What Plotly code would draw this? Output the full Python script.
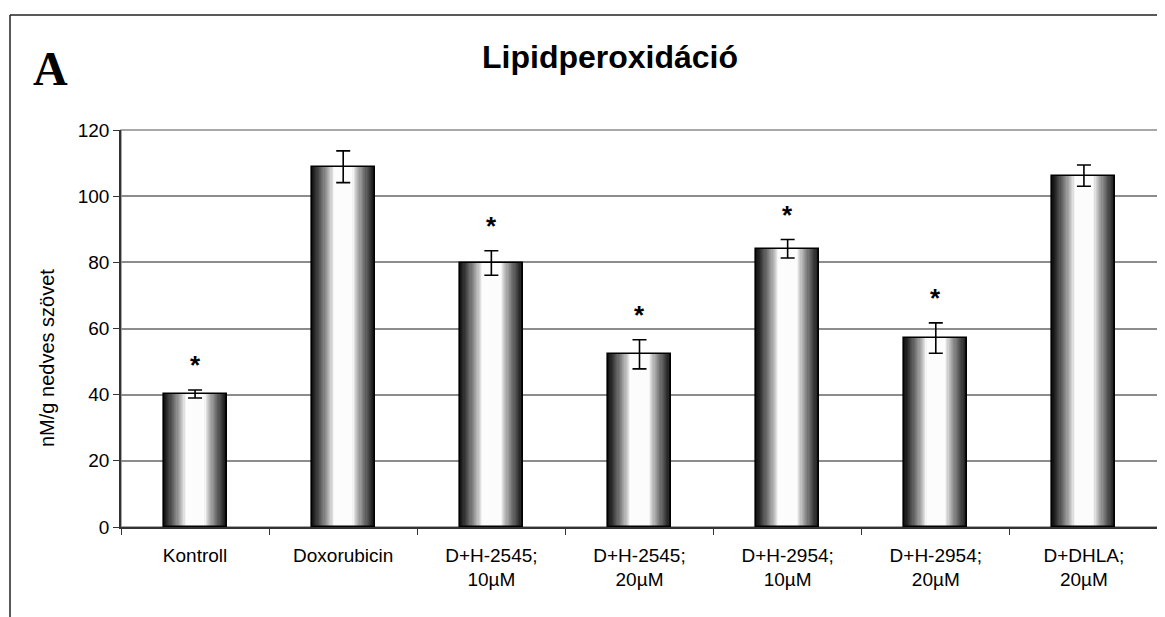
import plotly.graph_objects as go

# ---- data ----
categories = ["Kontroll", "Doxorubicin", "D+H-2545;<br>10µM", "D+H-2545;<br>20µM",
              "D+H-2954;<br>10µM", "D+H-2954;<br>20µM", "D+DHLA;<br>20µM"]
values = [40.2, 108.9, 79.8, 52.2, 84.1, 57.1, 106.2]
errors = [1.2, 4.8, 3.7, 4.4, 2.8, 4.6, 3.2]
significant = [True, False, True, True, True, True, False]
y_ticks = [0, 20, 40, 60, 80, 100, 120]

title_text = "Lipidperoxidáció"
y_title = "nM/g nedves szövet"
panel_label = "A"

FONT = "Liberation Sans, Arial, sans-serif"
BAR_W = 0.425

# the page body adds an 8px offset; positions below are given in window pixels
OFF = 8
WIN_W, WIN_H = 1165, 617
W, H = WIN_W - OFF, WIN_H - OFF
PLOT_L, PLOT_R, PLOT_T, PLOT_B = 121, 1158, 130, 527   # window pixels
L, R = PLOT_L - OFF, WIN_W - PLOT_R
T, B = PLOT_T - OFF, WIN_H - PLOT_B
pw, ph = PLOT_R - PLOT_L, PLOT_B - PLOT_T


def px_x(x):
    return (x - PLOT_L) / pw


def px_y(y):
    return (PLOT_B - y) / ph


fig = go.Figure()

# gradient bars: overlay layers of decreasing width, darker outside, white centre
n_layers = 22
for i in range(n_layers):
    f = 1.0 - i * (0.78 / (n_layers - 1))
    if f <= 0.32:
        b = 252
    else:
        t = (f - 0.32) / 0.68
        b = int(252 - (252 - 20) * (t ** 0.8))
    col = f"rgb({b},{b},{b})"
    fig.add_trace(go.Bar(x=categories, y=values, width=BAR_W * f,
                         marker=dict(color=col, line=dict(width=0)),
                         hoverinfo="skip", showlegend=False))

# outline on top
fig.add_trace(go.Bar(x=categories, y=values, width=BAR_W,
                     marker=dict(color="rgba(0,0,0,0)", line=dict(color="black", width=1.6)),
                     hoverinfo="skip", showlegend=False))

# error bars
fig.add_trace(go.Scatter(x=categories, y=values, mode="markers",
                         marker=dict(size=1, opacity=0),
                         error_y=dict(type="data", array=errors, visible=True,
                                      color="black", thickness=1.6, width=7),
                         hoverinfo="skip", showlegend=False))

shapes = [
    dict(type="rect", xref="paper", yref="paper", x0=0, y0=0, x1=1, y1=1,
         line=dict(color="#8c8c8c", width=1.5), layer="below"),
    dict(type="line", xref="paper", yref="paper", x0=px_x(10), y0=px_y(15),
         x1=px_x(1175), y1=px_y(15), line=dict(color="#222222", width=1.5)),
    dict(type="line", xref="paper", yref="paper", x0=px_x(10), y0=px_y(15),
         x1=px_x(10), y1=px_y(630), line=dict(color="#222222", width=1.5)),
]

annotations = [
    dict(text=f"<b>{panel_label}</b>", xref="paper", yref="paper",
         x=px_x(50), y=px_y(68), xanchor="center", yanchor="middle", showarrow=False,
         font=dict(family="Liberation Serif, Times New Roman, serif", size=48, color="black")),
    dict(text=f"<b>{title_text}</b>", xref="paper", yref="paper",
         x=px_x(610), y=px_y(57), xanchor="center", yanchor="middle", showarrow=False,
         font=dict(family=FONT, size=32, color="black")),
    dict(text=y_title, xref="paper", yref="paper", textangle=-90,
         x=px_x(47), y=px_y(358), xanchor="center", yanchor="middle", showarrow=False,
         font=dict(family=FONT, size=20, color="black")),
]

# significance asterisks
for cat, v, e, s in zip(categories, values, errors, significant):
    if s:
        annotations.append(dict(text="<b>*</b>", x=cat, y=v + e, xref="x", yref="y",
                                xanchor="center", yanchor="middle", yshift=25,
                                showarrow=False,
                                font=dict(family=FONT, size=26, color="black")))

fig.update_layout(
    width=W, height=H,
    margin=dict(l=L, r=R, t=T, b=B, pad=0),
    paper_bgcolor="white", plot_bgcolor="white",
    barmode="overlay", bargap=0,
    shapes=shapes, annotations=annotations,
    font=dict(family=FONT, size=19, color="black"),
    showlegend=False,
)
fig.update_xaxes(type="category", showline=True, linecolor="#333333", linewidth=1.5,
                 ticks="outside", tickson="boundaries", ticklen=6, tickcolor="#333333",
                 tickwidth=1.2, showgrid=False, tickfont=dict(size=19, family=FONT),
                 ticklabelstandoff=10,
                 range=[-0.5, len(categories) - 0.5])
fig.update_yaxes(range=[0, 120], tickvals=y_ticks, showline=True, linecolor="#333333",
                 linewidth=1.5, ticks="outside", ticklen=6, tickcolor="#333333",
                 tickwidth=1.2, showgrid=True, gridcolor="#8c8c8c", gridwidth=1.5,
                 zeroline=False, tickfont=dict(size=19, family=FONT))

fig.write_html("out.html")
